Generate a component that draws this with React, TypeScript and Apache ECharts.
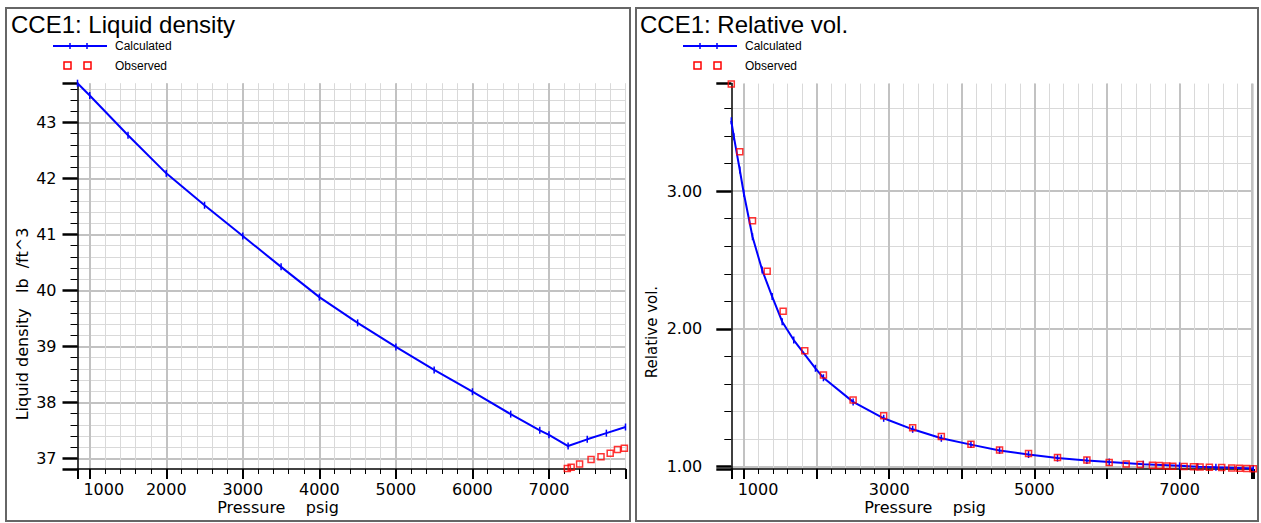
import React, { useEffect, useRef } from "react";
import * as echarts from "echarts";

// ---------- data ----------
const densityCalcPressure = [840, 1000, 1500, 2000, 2500, 3000, 3500, 4000, 4500, 5000, 5500, 6000, 6500, 6880, 7000, 7250, 7500, 7750, 8000];
const densityCalcValues = [43.70, 43.48, 42.77, 42.09, 41.52, 40.97, 40.42, 39.88, 39.42, 38.99, 38.58, 38.19, 37.79, 37.50, 37.42, 37.22, 37.34, 37.45, 37.56];
const densityObsPressure = [7240, 7290, 7400, 7550, 7680, 7800, 7895, 7985];
const densityObsValues = [36.82, 36.84, 36.90, 36.98, 37.03, 37.09, 37.16, 37.18];

const relvolCalcPressure = [825, 860, 942, 997, 1117, 1250, 1388, 1526, 1685, 1984, 2094, 2503, 2924, 3323, 3718, 4126, 4520, 4919, 5318, 5723, 6030, 6500, 7000, 7250, 7500, 8015];
const relvolCalcValues = [3.51, 3.395, 3.153, 2.984, 2.669, 2.427, 2.234, 2.052, 1.919, 1.714, 1.645, 1.470, 1.351, 1.271, 1.206, 1.160, 1.118, 1.088, 1.062, 1.045, 1.033, 1.018, 1.006, 1.000, 0.995, 0.986];
const relvolObsPressure = [825, 942, 1117, 1319, 1539, 1837, 2094, 2503, 2924, 3323, 3718, 4126, 4520, 4919, 5318, 5723, 6030, 6264, 6456, 6626, 6722, 6823, 6906, 7062, 7190, 7282, 7410, 7580, 7718, 7823, 7924, 8015];
const relvolObsValues = [3.777, 3.286, 2.785, 2.418, 2.128, 1.842, 1.665, 1.484, 1.370, 1.283, 1.218, 1.163, 1.121, 1.095, 1.066, 1.048, 1.031, 1.020, 1.015, 1.011, 1.008, 1.005, 1.003, 1.001, 1.000, 0.998, 0.996, 0.993, 0.991, 0.989, 0.987, 0.985];

const leftXTickLabels = [1000, 2000, 3000, 4000, 5000, 6000, 7000];
const rightXTickLabels = [1000, 3000, 5000, 7000];
const leftYTickLabels = [37, 38, 39, 40, 41, 42, 43];
const rightYTickLabels = [1, 2, 3];

const LEFT_X = [840, 8000];
const LEFT_Y = [36.81, 43.70];
const RIGHT_X = [825, 8015];
const RIGHT_Y = [0.983, 3.78];

// ---------- styles ----------
const TICK_FONT = "DejaVu Sans";
const BLUE = "#0000ff";
const RED = "#ff0000";
const MINOR_GRID = "#d9d9d9";
const MAJOR_GRID = "#c2c2c2";

const isOn = (v: number, list: number[]) => list.some((t) => Math.abs(v - t) < 1e-6);

function minorX(gridIndex: number, ext: number[]) {
  return {
    type: "value", gridIndex, min: ext[0], max: ext[1], splitNumber: 36, position: "bottom",
    axisLine: { show: false },
    axisTick: { show: true, length: 5, lineStyle: { color: "#000", width: 1 } },
    axisLabel: { show: false },
    splitLine: { show: true, showMinLine: false, lineStyle: { color: MINOR_GRID, width: 1 } },
  };
}
function majorX(gridIndex: number, ext: number[], labels: number[]) {
  return {
    type: "value", gridIndex, min: ext[0], max: ext[1], splitNumber: 7, position: "bottom",
    axisLine: { show: true, onZero: false, lineStyle: { color: "#000", width: 1.5 } },
    axisTick: { show: true, length: 10, lineStyle: { color: "#000", width: 2 } },
    axisLabel: {
      show: true, margin: 12, fontFamily: TICK_FONT, fontSize: 16, color: "#000",
      formatter: (v: number) => {
        if (!isOn(v, labels)) return "";
        return Math.abs(v - labels[0]) < 1e-6 ? "{f|" + Math.round(v) + "}" : String(Math.round(v));
      },
      rich: { f: { fontFamily: TICK_FONT, fontSize: 16, color: "#000", padding: [0, 0, 0, 28] } },
    },
    splitLine: { show: true, showMinLine: false, showMaxLine: false, lineStyle: { color: MAJOR_GRID, width: 2 } },
  };
}
function minorY(gridIndex: number, ext: number[], split: number) {
  return {
    type: "value", gridIndex, min: ext[0], max: ext[1], splitNumber: split, position: "left",
    axisLine: { show: false },
    axisTick: { show: true, length: 7, lineStyle: { color: "#000", width: 1 } },
    axisLabel: { show: false },
    splitLine: { show: true, showMinLine: false, showMaxLine: false, lineStyle: { color: MINOR_GRID, width: 1 } },
  };
}
function majorY(gridIndex: number, ext: number[], split: number, labels: number[], digits: number, margin: number) {
  return {
    type: "value", gridIndex, min: ext[0], max: ext[1], splitNumber: split, position: "left",
    axisLine: { show: true, onZero: false, lineStyle: { color: "#000", width: 1.5 } },
    axisTick: { show: true, length: 15, lineStyle: { color: "#000", width: 2.5 } },
    axisLabel: {
      show: true, margin, fontFamily: TICK_FONT, fontSize: 16, color: "#000",
      formatter: (v: number) => (isOn(v, labels) ? v.toFixed(digits) : ""),
    },
    splitLine: { show: true, showMinLine: false, showMaxLine: false, lineStyle: { color: MAJOR_GRID, width: 2 } },
  };
}

function legend(x0: number) {
  const items: any[] = [
    { type: "line", shape: { x1: x0, y1: 46, x2: x0 + 54, y2: 46 }, style: { stroke: BLUE, lineWidth: 2 } },
    { type: "line", shape: { x1: x0 + 17, y1: 43, x2: x0 + 17, y2: 49 }, style: { stroke: BLUE, lineWidth: 1.5 } },
    { type: "line", shape: { x1: x0 + 34, y1: 43, x2: x0 + 34, y2: 49 }, style: { stroke: BLUE, lineWidth: 1.5 } },
    { type: "rect", shape: { x: x0 + 11, y: 62, width: 7, height: 7 }, style: { stroke: RED, lineWidth: 1.5, fill: "none" } },
    { type: "rect", shape: { x: x0 + 31, y: 62, width: 7, height: 7 }, style: { stroke: RED, lineWidth: 1.5, fill: "none" } },
    { type: "text", x: x0 + 62, y: 46, style: { text: "Calculated", font: '12px "Liberation Sans", Arial, sans-serif', fill: "#000", verticalAlign: "middle" } },
    { type: "text", x: x0 + 62, y: 66, style: { text: "Observed", font: '12px "Liberation Sans", Arial, sans-serif', fill: "#000", verticalAlign: "middle" } },
  ];
  return items;
}

export default function App() {
  const ref = useRef<HTMLDivElement>(null);
  useEffect(() => {
    if (!ref.current) return;
    const chart = echarts.init(ref.current, null, { renderer: "svg" });
    const zip = (a: number[], b: number[]) => a.map((x, i) => [x, b[i]]);
    const calcSeries = (xi: number, data: number[][]) => ({
      type: "line", xAxisIndex: xi, yAxisIndex: xi, data, clip: false,
      symbol: "rect", symbolSize: [1.5, 7], showSymbol: true,
      itemStyle: { color: BLUE }, lineStyle: { color: BLUE, width: 2 }, z: 3,
    });
    const obsSeries = (xi: number, data: number[][]) => ({
      type: "scatter", xAxisIndex: xi, yAxisIndex: xi, data, clip: false,
      symbol: "rect", symbolSize: 6,
      itemStyle: { color: "rgba(0,0,0,0)", borderColor: RED, borderWidth: 1.5 }, z: 4,
    });
    const option: any = {
      animation: false,
      backgroundColor: "#fff",
      grid: [
        { left: 77.5, top: 83.2, width: 548, height: 385.8 },
        { left: 731.3, top: 83.6, width: 522, height: 385.4 },
      ],
      xAxis: [
        minorX(0, LEFT_X),
        majorX(0, LEFT_X, leftXTickLabels),
        minorX(1, RIGHT_X),
        majorX(1, RIGHT_X, rightXTickLabels),
      ],
      yAxis: [
        minorY(0, LEFT_Y, 34),
        majorY(0, LEFT_Y, 6, leftYTickLabels, 0, 21),
        minorY(1, RIGHT_Y, 14),
        majorY(1, RIGHT_Y, 3, rightYTickLabels, 2, 29),
      ],
      series: [
        calcSeries(1, zip(densityCalcPressure, densityCalcValues)),
        obsSeries(1, zip(densityObsPressure, densityObsValues)),
        calcSeries(3, zip(relvolCalcPressure, relvolCalcValues)),
        obsSeries(3, zip(relvolObsPressure, relvolObsValues)),
      ],
      graphic: [
        { type: "rect", shape: { x: 6, y: 8, width: 624, height: 513 }, style: { stroke: "#666", lineWidth: 2, fill: "none" }, silent: true },
        { type: "rect", shape: { x: 636, y: 8, width: 622, height: 513 }, style: { stroke: "#666", lineWidth: 2, fill: "none" }, silent: true },
        { type: "text", x: 11, y: 24, style: { text: "CCE1: Liquid density", font: '24px "Liberation Sans", Arial, sans-serif', fill: "#000", verticalAlign: "middle" } },
        { type: "text", x: 640, y: 24, style: { text: "CCE1: Relative vol.", font: '24px "Liberation Sans", Arial, sans-serif', fill: "#000", verticalAlign: "middle" } },
        ...legend(53),
        ...legend(683),
        { type: "text", x: 278, y: 507, style: { text: "Pressure    psig", font: '16px "DejaVu Sans"', fill: "#000", align: "center", verticalAlign: "middle" } },
        { type: "text", x: 925, y: 507, style: { text: "Pressure    psig", font: '16px "DejaVu Sans"', fill: "#000", align: "center", verticalAlign: "middle" } },
        { type: "text", x: 22, y: 324, rotation: Math.PI / 2, style: { text: "Liquid density   lb  /ft^3", font: '16px "DejaVu Sans"', fill: "#000", align: "center", verticalAlign: "middle" } },
        { type: "text", x: 652, y: 332, rotation: Math.PI / 2, style: { text: "Relative vol.", font: '15px "DejaVu Sans"', fill: "#000", align: "center", verticalAlign: "middle" } },
      ],
    };
    chart.setOption(option);
    return () => chart.dispose();
  }, []);
  return <div ref={ref} style={{ position: "absolute", left: 0, top: 0, width: 1261, height: 523 }} />;
}
